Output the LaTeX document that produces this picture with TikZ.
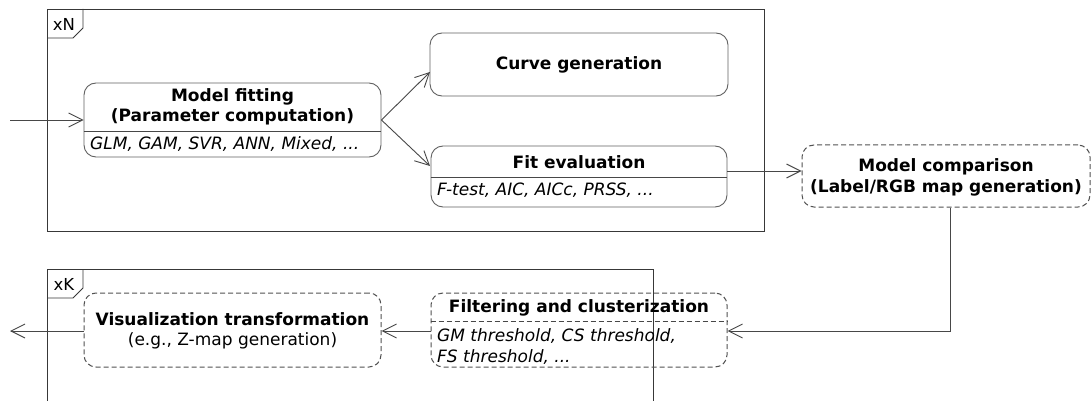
\documentclass[tikz,border=0pt]{standalone}
\usepackage{fontspec}
\setmainfont{DejaVu Sans}
\usetikzlibrary{arrows.meta}
\begin{document}
\begin{tikzpicture}[x=1pt,y=-1pt,
  frameline/.style={draw=black!78, line width=0.9pt},
  box/.style={draw=black!62, line width=0.9pt, rounded corners=12pt, inner sep=0pt},
  dbox/.style={box, draw=black!68, line width=1pt, dash pattern=on 5pt off 3pt},
  sepline/.style={draw=black!72, line width=0.9pt},
  dsepline/.style={sepline, dash pattern=on 5pt off 3pt},
  conn/.style={draw=black!72, line width=0.9pt, -{Straight Barb[length=14pt,width=14pt,line width=0.9pt]}},
  ttl/.style={font=\fontsize{17}{20.5}\selectfont\bfseries, align=center, inner sep=0pt},
  plain/.style={font=\fontsize{17}{20.5}\selectfont, align=center, inner sep=0pt},
  sub/.style={font=\fontsize{17}{21}\selectfont\itshape, align=left, inner sep=0pt, anchor=west},
  tab/.style={font=\fontsize{16.5}{18}\selectfont, inner sep=0pt}
]
\useasboundingbox (0,0) rectangle (1092,401);
\fill[white] (0,0) rectangle (1092,401);

% frames
\draw[frameline] (47,9) rectangle (764,231);
\draw[frameline] (47,38) -- (73,38) -- (83,28) -- (83,9);
\node[tab] (tabN) at (64,24) {xN};

\draw[frameline] (47,401) -- (47,269) -- (653,269) -- (653,401);
\draw[frameline] (47,298) -- (73,298) -- (83,288) -- (83,269);
\node[tab] (tabK) at (64,284) {xK};

% boxes
\node[box, minimum width=297pt, minimum height=74pt] (mf) at (232.5,120) {};
\draw[sepline] (mf.west |- 0,131) -- (mf.east |- 0,131);
\node[ttl] (mft) at (232.5,107) {Model fitting\\(Parameter computation)};
\node[sub] (mfs) at (90,144.5) {GLM, GAM, SVR, ANN, Mixed, ...};

\node[box, minimum width=298pt, minimum height=63pt] (cg) at (579,64.5) {};
\node[ttl] (cgt) at (579,65) {Curve generation};

\node[box, minimum width=296pt, minimum height=61pt] (fe) at (579,176.5) {};
\draw[sepline] (fe.west |- 0,177) -- (fe.east |- 0,177);
\node[ttl] (fet) at (579,162) {Fit evaluation};
\node[sub] (fes) at (437,190.5) {F-test, AIC, AICc, PRSS, ...};

\node[dbox, minimum width=288pt, minimum height=62pt] (mc) at (946,176) {};
\node[ttl] (mct) at (946,177.5) {Model comparison\\(Label/RGB map generation)};

\node[dbox, minimum width=296pt, minimum height=74pt] (fl) at (579,330) {};
\draw[dsepline] (fl.west |- 0,321) -- (fl.east |- 0,321);
\node[ttl] (flt) at (579,308) {Filtering and clusterization};
\node[sub] (fls) at (437,346.5) {GM threshold, CS threshold,\\FS threshold, ...};

\node[dbox, minimum width=297pt, minimum height=74pt] (vt) at (232.5,330) {};
\node[plain] (vtt) at (232.5,331) {\textbf{Visualization transformation}\\(e.g., Z-map generation)};

% connectors
\coordinate (in) at (10,120);
\coordinate (out) at (10,331);
\coordinate (cgin) at (430,72);
\coordinate (fein) at (430,166);
\coordinate (feout) at (727,171);
\coordinate (turn) at (950,331);

\draw[conn] (in) -- (mf.west);
\draw[conn] (mf.east) -- (cgin);
\draw[conn] (mf.east) -- (fein);
\draw[conn] (feout) -- (mc.west |- feout);
\draw[conn] (mc.south -| turn) -- (turn) -- (fl.east |- turn);
\draw[conn] (fl.west |- turn) -- (vt.east |- turn);
\draw[conn] (vt.west |- turn) -- (out);
\end{tikzpicture}
\end{document}
